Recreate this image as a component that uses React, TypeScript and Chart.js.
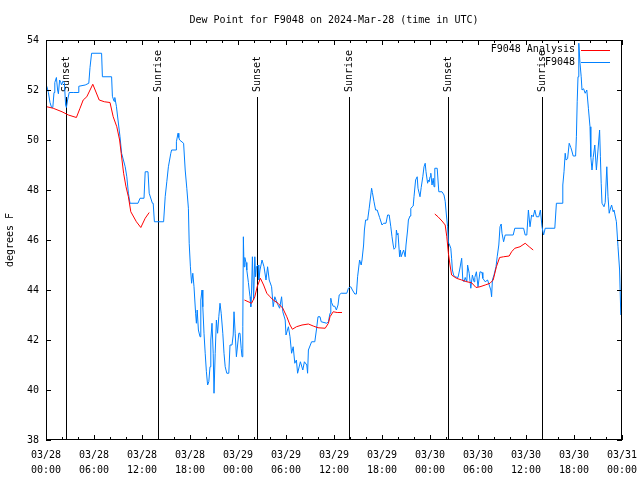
import React, { useEffect, useRef } from 'react';
import { Chart, registerables } from 'chart.js';

Chart.register(...registerables);

const FONT = '"DejaVu Sans Mono", "Liberation Mono", monospace';

const titleText = 'Dew Point for F9048 on 2024-Mar-28 (time in UTC)';
const yAxisTitle = 'degrees F';
const seriesNames = ['F9048 Analysis', 'F9048'];
const seriesColors = ['#ff0000', '#0080ff'];

// hours since 03/28 00:00 UTC
const blueHours = [
  0.1, 0.3, 0.5, 0.7, 0.85, 1.0, 1.1, 1.3, 1.45, 1.55, 1.7, 1.85, 1.95, 2.1, 2.3, 2.45, 2.55, 2.7, 2.9, 3.4,
  4.0, 4.1, 4.9, 5.35, 5.5, 5.7, 6.95, 7.05, 8.2, 8.3, 8.5, 8.6, 8.8, 9.0, 9.25, 9.45, 9.9, 10.1, 10.3, 10.5,
  11.5, 11.75, 12.25, 12.4, 12.75, 12.9, 13.3, 13.4, 13.55, 14.7, 14.9, 15.1, 15.3, 15.6, 15.7, 16.25, 16.3, 16.5, 16.6, 16.7,
  17.2, 17.4, 17.6, 17.8, 17.9, 18.05, 18.2, 18.35, 18.5, 18.7, 18.8, 18.9, 19.05, 19.25, 19.35, 19.5, 19.6, 19.75, 19.9, 20.05,
  20.2, 20.35, 20.5, 20.6, 20.75, 20.9, 21.0, 21.15, 21.3, 21.45, 21.6, 21.75, 21.9, 22.1, 22.25, 22.4, 22.6, 22.85, 23.0, 23.25,
  23.4, 23.5, 23.65, 23.8, 23.95, 24.1, 24.25, 24.4, 24.5, 24.6, 24.67, 24.75, 24.85, 25.0, 25.1, 25.3, 25.4, 25.5, 25.6, 25.7,
  25.8, 25.95, 26.1, 26.2, 26.3, 26.5, 26.6, 26.75, 27.0, 27.25, 27.5, 27.7, 27.9, 28.2, 28.4, 28.6, 28.9, 29.2, 29.45, 29.6,
  29.9, 30.0, 30.3, 30.5, 30.7, 30.9, 31.1, 31.3, 31.45, 31.7, 31.8, 32.1, 32.3, 32.6, 32.7, 32.8, 33.2, 33.6, 33.8, 34.0,
  34.25, 34.4, 35.1, 35.3, 35.5, 35.6, 35.7, 35.9, 36.1, 36.3, 36.5, 36.65, 36.9, 37.6, 37.8, 38.1, 38.3, 38.6, 38.8, 38.95,
  39.2, 39.4, 39.5, 39.7, 39.8, 39.95, 40.2, 40.4, 40.6, 40.7, 40.8, 41.0, 41.2, 41.4, 41.7, 42.0, 42.2, 42.5, 42.7, 42.9,
  43.1, 43.25, 43.4, 43.5, 43.7, 43.8, 43.9, 44.0, 44.2, 44.3, 44.4, 44.7, 44.9, 45.0, 45.2, 45.3, 45.5, 45.6, 45.9, 46.0,
  46.2, 46.4, 46.5, 46.75, 46.9, 47.1, 47.25, 47.4, 47.5, 47.7, 47.8, 47.9, 48.0, 48.1, 48.25, 48.4, 48.5, 48.6, 48.9, 49.1,
  49.5, 49.75, 49.9, 50.05, 50.2, 50.3, 50.45, 50.6, 50.7, 50.8, 50.95, 51.1, 51.5, 51.7, 51.96, 52.1, 52.25, 52.4, 52.6, 52.7,
  52.9, 53.1, 53.3, 53.5, 53.6, 53.8, 54.0, 54.25, 54.5, 54.6, 54.9, 55.2, 55.4, 55.6, 55.7, 55.8, 56.0, 56.25, 56.4, 56.6,
  56.75, 56.9, 57.0, 57.2, 57.4, 58.4, 58.6, 59.7, 59.9, 60.1, 60.3, 60.5, 60.7, 60.9, 61.1, 61.3, 61.6, 61.8, 62.0, 62.2,
  62.4, 63.6, 63.8, 64.5, 64.6, 64.75, 64.9, 65.0, 65.2, 65.4, 65.6, 65.7, 65.9, 66.2, 66.3, 66.4, 66.5, 66.6, 66.75, 66.9,
  67.0, 67.2, 67.4, 67.6, 67.8, 68.0, 68.1, 68.25, 68.4, 68.6, 68.8, 69.0, 69.2, 69.3, 69.4, 69.5, 69.75, 69.9, 70.1, 70.25,
  70.4, 70.5, 70.7, 70.9, 71.0, 71.3, 71.5, 71.7, 71.85,
];
const blueValues = [
  52.15, 51.9, 51.5, 51.3, 51.3, 51.9, 52.3, 52.5, 52.0, 51.85, 52.4, 52.3, 52.2, 52.35, 52.3, 51.4, 51.3, 51.6, 51.9, 51.9,
  51.9, 52.15, 52.2, 52.27, 52.9, 53.47, 53.47, 52.53, 52.53, 51.75, 51.55, 51.7, 51.35, 50.8, 50.13, 49.47, 48.93, 48.53, 47.87, 47.47,
  47.47, 47.67, 47.67, 48.73, 48.73, 47.87, 47.47, 47.47, 46.73, 46.73, 47.73, 48.33, 48.93, 49.47, 49.6, 49.6, 49.93, 50.27, 50.1, 50.0,
  49.87, 48.8, 48.07, 47.27, 45.87, 44.93, 44.27, 44.67, 44.13, 43.07, 42.67, 43.2, 42.4, 42.13, 43.6, 44.0, 43.33, 42.27, 41.47, 40.73,
  40.2, 40.33, 40.93, 42.0, 42.67, 41.47, 39.87, 41.47, 42.8, 42.27, 42.93, 43.47, 43.07, 42.27, 41.47, 40.93, 40.67, 40.67, 41.8, 41.8,
  42.2, 43.13, 42.27, 41.33, 41.8, 42.27, 42.27, 41.67, 41.33, 42.53, 46.13, 44.93, 45.3, 45.1, 44.8, 44.3, 44.0, 43.73, 43.33, 44.0,
  45.33, 43.6, 45.33, 44.53, 44.93, 45.0, 44.4, 44.8, 45.2, 44.93, 44.4, 44.93, 44.4, 44.13, 43.33, 43.73, 43.47, 43.27, 43.73, 43.13,
  42.8, 42.2, 42.53, 42.13, 41.47, 41.73, 41.07, 41.2, 40.67, 41.0, 41.13, 40.8, 41.13, 41.0, 40.67, 41.6, 41.93, 41.93, 42.4, 42.93,
  42.93, 42.73, 42.67, 42.73, 43.07, 43.67, 43.5, 43.35, 43.35, 43.2, 43.4, 43.8, 43.87, 43.87, 44.07, 44.13, 44.0, 43.84, 43.84, 44.53,
  45.2, 45.0, 45.2, 45.8, 46.4, 46.8, 46.8, 47.27, 47.8, 48.07, 47.9, 47.53, 47.2, 47.2, 46.9, 46.6, 46.67, 46.67, 47.0, 47.0,
  46.53, 46.13, 45.8, 45.63, 45.7, 46.4, 46.2, 46.27, 45.33, 45.6, 45.33, 45.6, 45.33, 45.8, 46.4, 46.8, 46.96, 47.27, 47.36, 47.73,
  48.4, 48.53, 48.07, 47.73, 48.1, 48.53, 48.93, 49.07, 48.73, 48.27, 48.4, 48.33, 48.53, 48.67, 48.2, 48.47, 48.13, 48.87, 48.87, 47.93,
  47.93, 47.8, 47.55, 47.0, 46.53, 45.9, 45.8, 45.67, 45.27, 44.8, 44.6, 44.53, 44.5, 44.8, 45.27, 44.4, 44.33, 44.5, 44.33, 45.0,
  44.67, 44.07, 44.6, 44.33, 44.5, 44.73, 44.13, 44.73, 44.7, 44.47, 44.33, 44.4, 44.2, 44.0, 43.73, 44.4, 44.6, 44.93, 45.33, 45.8,
  46.53, 46.64, 46.27, 45.93, 46.2, 46.2, 46.47, 46.47, 46.2, 46.2, 47.2, 46.53, 47.0, 46.93, 47.2, 46.93, 46.93, 47.2, 46.53, 46.2,
  46.47, 46.47, 47.47, 47.47, 48.2, 48.73, 49.47, 49.2, 49.25, 49.87, 49.7, 49.6, 49.36, 49.36, 50.13, 51.53, 52.53, 53.87, 53.07, 52.53,
  52.0, 52.05, 51.87, 52.0, 51.27, 50.53, 49.33, 48.8, 49.3, 49.8, 48.8, 49.6, 50.4, 49.33, 48.27, 47.47, 47.33, 47.5, 48.93, 47.73,
  47.07, 47.2, 47.4, 47.13, 47.2, 46.73, 45.73, 44.8, 43.0,
];

// analysis series; null marks a gap between segments
const redHours = [
  0.1, 0.9, 2.0, 2.8, 3.8, 4.25, 4.65, 5.1, 5.85, 6.65, 7.3, 8.0, 8.4, 8.85, 9.2, 9.4, 9.7, 10.0, 10.3, 10.6,
  11.3, 11.85, 12.4, 12.9,
  18.0,
  24.8, 25.7, 26.1, 26.4, 26.8, 27.2, 27.6, 28.0, 28.4, 29.0, 29.6, 30.1, 30.5, 30.8, 31.3, 32.0, 32.8, 33.4, 34.0, 34.9,
  35.3, 35.5, 35.9, 36.4, 37.0,
  42.0,
  48.6, 49.0, 49.5, 49.9, 50.1, 50.3, 50.5, 50.7, 51.3, 51.96, 52.6, 53.2, 53.75, 54.25, 54.9, 55.5, 55.9, 56.3, 56.7, 57.2,
  57.9, 58.2, 58.6, 59.25, 59.9, 60.4, 60.9,
];
const redValues = [
  51.33, 51.27, 51.13, 51.0, 50.9, 51.27, 51.6, 51.73, 52.23, 51.6, 51.53, 51.5, 50.93, 50.53, 50.0, 49.47, 48.67, 48.13, 47.73, 47.13,
  46.73, 46.5, 46.87, 47.1,
  null,
  43.6, 43.47, 43.73, 44.13, 44.47, 44.2, 43.87, 43.73, 43.6, 43.47, 43.27, 42.93, 42.6, 42.43, 42.53, 42.6, 42.64, 42.56, 42.49, 42.47,
  42.67, 42.93, 43.13, 43.1, 43.1,
  null,
  47.04, 46.93, 46.76, 46.6, 46.13, 45.47, 45.0, 44.6, 44.47, 44.4, 44.33, 44.29, 44.1, 44.13, 44.2, 44.27, 44.4, 44.93, 45.3, 45.33,
  45.36, 45.53, 45.67, 45.73, 45.87, 45.73, 45.6,
];

const sunHours = [2.5, 14.04, 26.33, 37.92, 50.29, 61.96];
const sunLabels = ['Sunset', 'Sunrise', 'Sunset', 'Sunrise', 'Sunset', 'Sunrise'];

const xTickHours = [0, 6, 12, 18, 24, 30, 36, 42, 48, 54, 60, 66, 72];
const xTickDates = ['03/28', '03/28', '03/28', '03/28', '03/29', '03/29', '03/29', '03/29', '03/30', '03/30', '03/30', '03/30', '03/31'];
const xTickTimes = ['00:00', '06:00', '12:00', '18:00', '00:00', '06:00', '12:00', '18:00', '00:00', '06:00', '12:00', '18:00', '00:00'];
const xMinorStep = 2;
const yTicks = [38, 40, 42, 44, 46, 48, 50, 52, 54];

const decorPlugin = {
  id: 'decor',
  beforeDatasetsDraw(chart: any) {
    const { ctx, chartArea: a, scales } = chart;
    const x = scales.x;
    ctx.save();
    ctx.strokeStyle = '#000';
    ctx.fillStyle = '#000';
    ctx.lineWidth = 1;
    ctx.font = `10px ${FONT}`;
    sunHours.forEach((h, i) => {
      const px = Math.round(x.getPixelForValue(h)) + 0.5;
      ctx.beginPath();
      ctx.moveTo(px, a.top + 57);
      ctx.lineTo(px, a.bottom);
      ctx.stroke();
      ctx.save();
      ctx.translate(px, a.top + 52);
      ctx.rotate(-Math.PI / 2);
      ctx.textAlign = 'left';
      ctx.textBaseline = 'middle';
      ctx.fillText(sunLabels[i], 0, 0);
      ctx.restore();
    });
    ctx.restore();
  },
  afterDraw(chart: any) {
    const { ctx, chartArea: a, scales } = chart;
    const x = scales.x;
    const y = scales.y;
    ctx.save();
    ctx.strokeStyle = '#000';
    ctx.lineWidth = 1;
    // frame
    ctx.strokeRect(a.left + 0.5, a.top + 0.5, a.right - a.left - 1, a.bottom - a.top - 1);
    // x ticks (inward, mirrored)
    ctx.beginPath();
    for (let h = 0; h <= 72; h += xMinorStep) {
      const px = Math.round(x.getPixelForValue(h)) + 0.5;
      const len = xTickHours.includes(h) ? 5 : 3;
      ctx.moveTo(px, a.bottom);
      ctx.lineTo(px, a.bottom - len);
      ctx.moveTo(px, a.top);
      ctx.lineTo(px, a.top + len);
    }
    yTicks.forEach((v) => {
      const py = Math.round(y.getPixelForValue(v)) + 0.5;
      ctx.moveTo(a.left, py);
      ctx.lineTo(a.left + 5, py);
      ctx.moveTo(a.right, py);
      ctx.lineTo(a.right - 5, py);
    });
    ctx.stroke();

    ctx.fillStyle = '#000';
    ctx.font = `10px ${FONT}`;
    // title
    ctx.textAlign = 'center';
    ctx.textBaseline = 'middle';
    ctx.fillText(titleText, (a.left + a.right) / 2, 20);
    // y title
    ctx.save();
    ctx.translate(10, (a.top + a.bottom) / 2);
    ctx.rotate(-Math.PI / 2);
    ctx.fillText(yAxisTitle, 0, 0);
    ctx.restore();
    // legend
    seriesNames.forEach((name, i) => {
      const ly = a.top + 9.5 + i * 12.5;
      ctx.textAlign = 'right';
      ctx.fillStyle = '#000';
      ctx.fillText(name, a.right - 47, ly);
      ctx.strokeStyle = seriesColors[i];
      ctx.beginPath();
      ctx.moveTo(a.right - 41, Math.round(ly) + 0.5);
      ctx.lineTo(a.right - 12, Math.round(ly) + 0.5);
      ctx.stroke();
    });
    ctx.restore();
  },
};

export default function App() {
  const canvasRef = useRef<HTMLCanvasElement | null>(null);

  useEffect(() => {
    const canvas = canvasRef.current;
    if (!canvas) return;
    const chart = new Chart(canvas, {
      type: 'line',
      data: {
        datasets: [
          {
            label: seriesNames[0],
            data: redHours.map((h, i) => ({ x: h, y: redValues[i] })) as any,
            borderColor: seriesColors[0],
            borderWidth: 1,
            pointRadius: 0,
            tension: 0,
            fill: false,
            spanGaps: false,
          },
          {
            label: seriesNames[1],
            data: blueHours.map((h, i) => ({ x: h, y: blueValues[i] })),
            borderColor: seriesColors[1],
            borderWidth: 1,
            pointRadius: 0,
            tension: 0,
            fill: false,
          },
        ],
      },
      options: {
        animation: false,
        responsive: false,
        maintainAspectRatio: false,
        layout: { padding: { left: 0, right: 18, top: 40, bottom: 0 } },
        plugins: {
          legend: { display: false },
          title: { display: false },
          tooltip: { enabled: false },
        },
        scales: {
          x: {
            type: 'linear',
            min: 0,
            max: 72,
            afterFit(s: any) {
              s.height = 40;
              s.paddingLeft = 0;
              s.paddingRight = 0;
              s.paddingTop = 0;
              s.paddingBottom = 0;
            },
            afterBuildTicks(s: any) {
              s.ticks = xTickHours.map((v) => ({ value: v }));
            },
            grid: { display: false, drawTicks: false },
            border: { display: false },
            ticks: {
              autoSkip: false,
              maxRotation: 0,
              minRotation: 0,
              padding: 7.5,
              color: '#000',
              font: { family: FONT, size: 10, lineHeight: 1.5 },
              callback: (v: any) => {
                const i = xTickHours.indexOf(Number(v));
                return i >= 0 ? [xTickDates[i], xTickTimes[i]] : '';
              },
            },
          },
          y: {
            type: 'linear',
            min: 38,
            max: 54,
            afterFit(s: any) {
              s.width = 46;
              s.paddingTop = 0;
              s.paddingBottom = 0;
            },
            afterBuildTicks(s: any) {
              s.ticks = yTicks.map((v) => ({ value: v }));
            },
            grid: { display: false, drawTicks: false },
            border: { display: false },
            ticks: {
              padding: 7,
              color: '#000',
              font: { family: FONT, size: 10 },
              callback: (v: any) => String(v),
            },
          },
        },
      },
      plugins: [decorPlugin],
    });
    return () => chart.destroy();
  }, []);

  return (
    <div style={{ position: 'absolute', left: 0, top: 0, width: 640, height: 480, background: '#fff' }}>
      <canvas ref={canvasRef} width={640} height={480} />
    </div>
  );
}
